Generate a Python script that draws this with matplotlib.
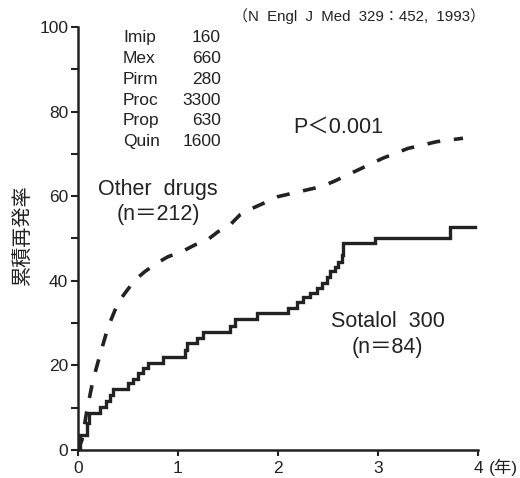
import matplotlib
matplotlib.use("Agg")
import matplotlib.pyplot as plt

# ---- data ----
sotalol_t = [0, 0.02, 0.09, 0.11, 0.22, 0.28, 0.32, 0.35, 0.50, 0.55, 0.60, 0.65, 0.70,
             0.85, 1.07, 1.09, 1.19, 1.25, 1.52, 1.57, 1.79, 2.10, 2.19, 2.25, 2.32,
             2.39, 2.44, 2.49, 2.52, 2.57, 2.60, 2.64, 2.65, 2.97, 3.72, 3.97]
sotalol_v = [0, 3.5, 6.5, 8.8, 10.2, 11.6, 13.0, 14.4, 15.8, 16.8, 18.2, 19.4, 20.6,
             22.0, 23.7, 25.2, 26.4, 28.0, 29.3, 31.0, 32.3, 33.6, 35.1, 36.2, 37.0,
             38.2, 39.4, 41.0, 42.2, 43.3, 44.5, 46.1, 48.9, 50.2, 52.8, 52.8]

other_t = [0, 0.04, 0.09, 0.15, 0.22, 0.30, 0.40, 0.47, 0.57, 0.67, 0.79, 0.90, 1.04,
           1.17, 1.29, 1.40, 1.52, 1.62, 1.74, 1.89, 2.00, 2.29, 2.42, 2.55, 2.80,
           3.05, 3.30, 3.59, 3.85]
other_v = [0, 2.4, 9.5, 16.5, 22.5, 29.0, 34.8, 37.1, 40.2, 42.2, 44.2, 45.7, 46.9,
           48.5, 49.6, 51.6, 53.2, 55.6, 57.1, 58.7, 59.9, 61.5, 62.2, 63.4, 66.2,
           69.0, 71.3, 72.9, 73.7]

drug_names = ["Imip", "Mex", "Pirm", "Proc", "Prop", "Quin"]
drug_doses = ["160", "660", "280", "3300", "630", "1600"]

x_ticks = [0, 1, 2, 3, 4]
y_major = [0, 20, 40, 60, 80, 100]
y_minor = [10, 30, 50, 70, 90]

FAM = ["Liberation Sans", "Noto Sans CJK JP", "DejaVu Sans"]
plt.rcParams["font.family"] = FAM
INK = "#222222"

fig = plt.figure(figsize=(5.2, 4.78), dpi=100)
ax = fig.add_axes([78 / 520, 28 / 478, 400 / 520, 423 / 478])

ax.plot(sotalol_t, sotalol_v, drawstyle="steps-post", color=INK, lw=2.4,
        solid_joinstyle="miter")
ax.plot(other_t, other_v, color=INK, lw=2.6, linestyle=(0, (3.6, 3.8)),
        dash_capstyle="butt")

ax.set_xlim(0, 4)
ax.set_ylim(0, 100)
for s in ["top", "right"]:
    ax.spines[s].set_visible(False)
for s in ["left", "bottom"]:
    ax.spines[s].set_linewidth(1.8)
    ax.spines[s].set_color(INK)

ax.set_xticks(x_ticks)
ax.set_xticklabels([str(v) for v in x_ticks])
ax.set_yticks(y_major)
ax.set_yticklabels([str(v) for v in y_major])
ax.set_yticks(y_minor, minor=True)
ax.tick_params(axis="both", which="both", direction="out", color=INK, width=1.5,
               labelsize=12.5, labelcolor=INK)
ax.tick_params(axis="y", which="both", length=5, pad=2)
ax.tick_params(axis="x", which="both", length=4, pad=4)

# texts
ax.text(4.07, 102.6, "（N  Engl  J  Med  329：452,  1993）", ha="right", va="center",
        fontsize=10.8, color=INK, clip_on=False)

row0, drow = 97.4, 4.9
for i, (n, d) in enumerate(zip(drug_names, drug_doses)):
    y = row0 - i * drow
    ax.text(0.45, y, n, ha="left", va="center", fontsize=12.5, color=INK)
    ax.text(1.43, y, d, ha="right", va="center", fontsize=12.5, color=INK)

ax.text(0.80, 61.5, "Other  drugs", ha="center", va="center", fontsize=15.5, color=INK)
ax.text(0.80, 55.6, "(n＝212)", ha="center", va="center", fontsize=15.5, color=INK)
ax.text(2.60, 76.4, "P＜0.001", ha="center", va="center", fontsize=15.5, color=INK)
ax.text(3.095, 30.3, "Sotalol  300", ha="center", va="center", fontsize=15.5, color=INK)
ax.text(3.09, 24.3, "(n＝84)", ha="center", va="center", fontsize=15.5, color=INK)

ax.text(4.25, -4.1, "(年)", ha="center", va="center", fontsize=12.5, color=INK,
        clip_on=False)
fig.text(23 / 520, 1 - 235 / 478, "累積再発率", rotation=90, ha="center", va="center",
         fontsize=14.5, color=INK)

fig.savefig("out.png", dpi=100, facecolor="white")
